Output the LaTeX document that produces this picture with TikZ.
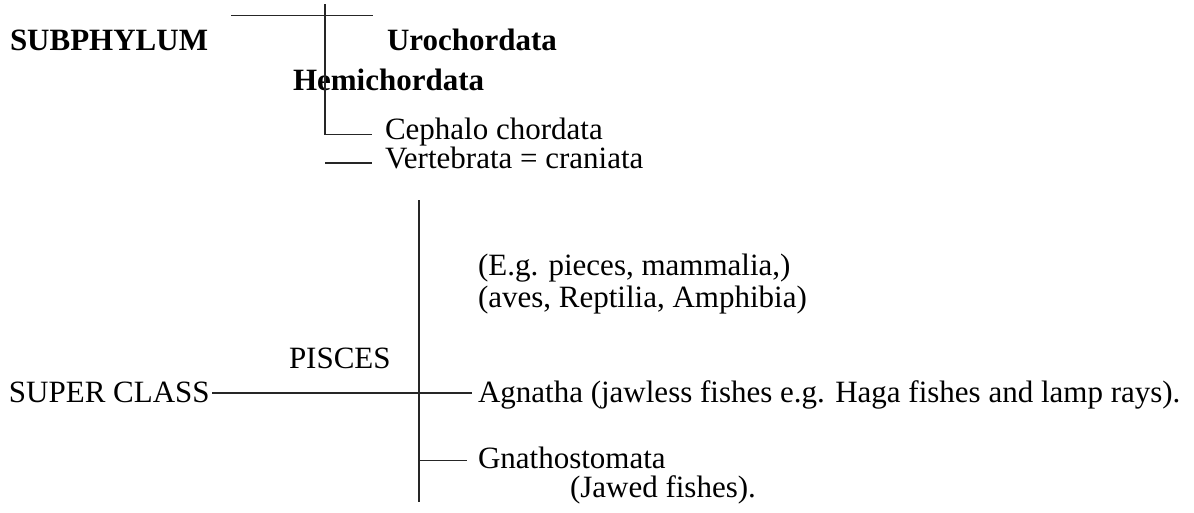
\documentclass[tikz,border=0pt]{standalone}
\usepackage{fontspec}
\setmainfont{Liberation Serif}
\begin{document}
\begin{tikzpicture}[x=1pt,y=-1pt,
  lbl/.style={anchor=base west,inner sep=0pt,outer sep=0pt,font=\fontsize{31}{36}\selectfont},
  blbl/.style={lbl,font=\fontsize{31}{36}\selectfont\bfseries},
  ln/.style={line width=1.4pt,black!85}]
\useasboundingbox (0,0) rectangle (1194,512);
% texts
\node[blbl] (subph) at (10,50) {SUBPHYLUM};
\node[blbl] (uro) at (387,50) {Urochordata};
\node[blbl] (hemi) at (293,90) {Hemichordata};
\node[lbl] (ceph) at (385,139) {Cephalo chordata};
\node[lbl] (vert) at (385,168) {Vertebrata = craniata};
\node[lbl] (eg1) at (478,275) {(E.g. pieces, mammalia,)};
\node[lbl] (eg2) at (478,307) {(aves, Reptilia, Amphibia)};
\node[lbl] (pisc) at (289,368) {PISCES};
\node[lbl] (sc) at (9,402) {SUPER CLASS};
\node[lbl] (agn) at (478,402) {Agnatha (jawless fishes e.g. Haga fishes and lamp rays).};
\node[lbl] (gna) at (478,468) {Gnathostomata};
\node[lbl] (jaw) at (570,497) {(Jawed fishes).};
% coordinates
\coordinate (tl) at (231,15.5);
\coordinate (tr) at (373,15.5);
\coordinate (v1top) at (325,4);
\coordinate (v1bot) at (325,134.5);
\coordinate (cephend) at (372,134.5);
\coordinate (vstart) at (325,163);
\coordinate (vend) at (372,163);
\coordinate (v2top) at (419,200);
\coordinate (v2bot) at (419,502);
\coordinate (scstart) at (212,393);
\coordinate (scend) at (472,393);
\coordinate (gstart) at (419,460.5);
\coordinate (gend) at (467,460.5);
% lines
\draw[ln] (tl) -- (tr);
\draw[ln] (v1top) -- (v1bot) -- (cephend);
\draw[ln] (vstart) -- (vend);
\draw[ln] (v2top) -- (v2bot);
\draw[ln] (scstart) -- (scend);
\draw[ln] (gstart) -- (gend);
\end{tikzpicture}
\end{document}
